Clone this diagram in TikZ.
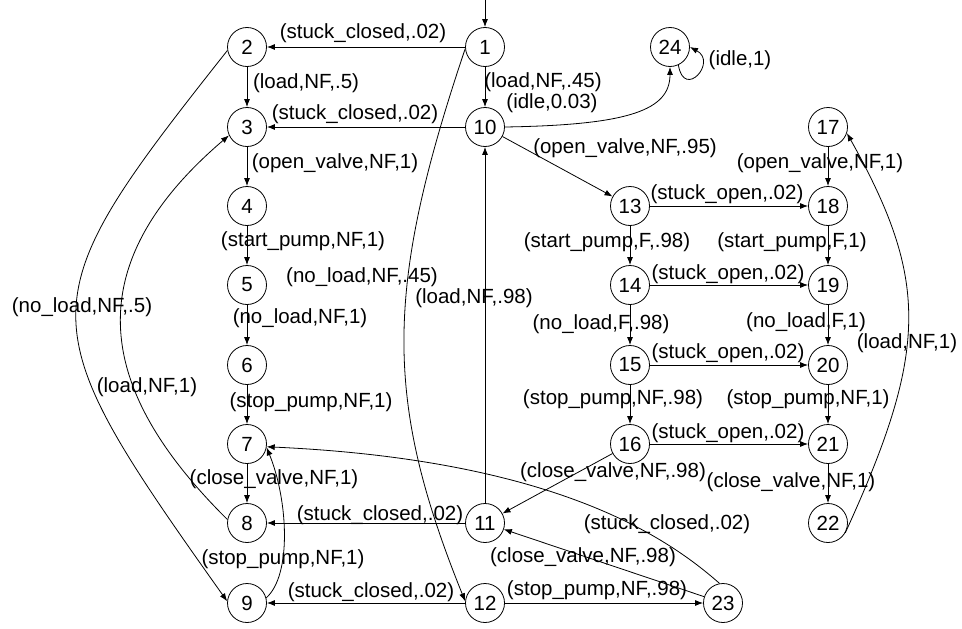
\documentclass[tikz,border=0pt]{standalone}
\usepackage{fontspec}
\setmainfont{Liberation Sans}
\usetikzlibrary{arrows.meta}
\begin{document}
\begin{tikzpicture}[x=1pt,y=-1pt,
  st/.style={circle,draw,line width=0.8pt,minimum size=39pt,inner sep=0pt,font=\fontsize{20.5}{24}\selectfont},
  lbl/.style={inner sep=0pt,font=\fontsize{20.5}{24}\selectfont},
  tr/.style={-{Latex[length=8pt,width=6pt]},line width=0.8pt}]
\useasboundingbox (0,0) rectangle (962,629);
% states
\node[st] (n1) at (485,47) {1};
\node[st] (n2) at (247,47) {2};
\node[st] (n3) at (247,127) {3};
\node[st] (n4) at (247,206) {4};
\node[st] (n5) at (247,285) {5};
\node[st] (n6) at (247,365) {6};
\node[st] (n7) at (247,444) {7};
\node[st] (n8) at (247,523) {8};
\node[st] (n9) at (247,603) {9};
\node[st] (n10) at (485,127) {10};
\node[st] (n11) at (485,523) {11};
\node[st] (n12) at (485,603) {12};
\node[st] (n13) at (630,206) {13};
\node[st] (n14) at (630,285) {14};
\node[st] (n15) at (630,365) {15};
\node[st] (n16) at (630,444) {16};
\node[st] (n17) at (828,127) {17};
\node[st] (n18) at (828,206) {18};
\node[st] (n19) at (828,285) {19};
\node[st] (n20) at (828,365) {20};
\node[st] (n21) at (828,444) {21};
\node[st] (n22) at (828,523) {22};
\node[st] (n23) at (723,603) {23};
\node[st] (n24) at (670,47) {24};
\coordinate (in1) at (485,0);
% straight transitions
\draw[tr] (in1) -- (n1);
\draw[tr] (n1) -- (n2);
\draw[tr] (n2) -- (n3);
\draw[tr] (n1) -- (n10);
\draw[tr] (n10) -- (n3);
\draw[tr] (n3) -- (n4);
\draw[tr] (n4) -- (n5);
\draw[tr] (n5) -- (n6);
\draw[tr] (n6) -- (n7);
\draw[tr] (n7) -- (n8);
\draw[tr] (n11) -- (n8);
\draw[tr] (n12) -- (n9);
\draw[tr] (n12) -- (n23);
\draw[tr] (n23) -- (n11);
\draw[tr] (n16) -- (n11);
\draw[tr] (n11) -- (n10);
\draw[tr] (n10) -- (n13);
\draw[tr] (n13) -- (n18);
\draw[tr] (n14) -- (n19);
\draw[tr] (n15) -- (n20);
\draw[tr] (n16) -- (n21);
\draw[tr] (n13) -- (n14);
\draw[tr] (n14) -- (n15);
\draw[tr] (n15) -- (n16);
\draw[tr] (n17) -- (n18);
\draw[tr] (n18) -- (n19);
\draw[tr] (n19) -- (n20);
\draw[tr] (n20) -- (n21);
\draw[tr] (n21) -- (n22);
% curved transitions
\draw[tr] (n2.190) .. controls (26,305) and (26,318) .. (n9.175);
\draw[tr] (n8.170) .. controls (110,403) and (63,277) .. (n3.205);
\draw[tr] (n9.15) .. controls (292,575) and (288,500) .. (n7.-10);
\draw[tr] (n1.185) .. controls (384,290) and (384,400) .. (n12.175);
\draw[tr] (n23.100) .. controls (670,540) and (560,460) .. (n7.-8);
\draw[tr] (n22.-30) .. controls (929,350) and (929,280) .. (n17.-18);
\draw[tr] (n10.east) .. controls (630,125) and (670,110) .. (n24.south);
\draw[tr] (n24.-65) .. controls (684,100) and (718,62) .. (n24.0);
% labels
\node[lbl] (l1a) at (363,33) {(stuck\_closed,.02)};
\node[lbl] (l2a) at (306,83) {(load,NF,.5)};
\node[lbl] (l1b) at (543,82) {(load,NF,.45)};
\node[lbl] (l10a) at (552,103) {(idle,0.03)};
\node[lbl] (l10b) at (355,114) {(stuck\_closed,.02)};
\node[lbl] (l3a) at (335,163) {(open\_valve,NF,1)};
\node[lbl] (l24a) at (740,60) {(idle,1)};
\node[lbl] (l10c) at (625,148) {(open\_valve,NF,.95)};
\node[lbl] (l17a) at (820,163) {(open\_valve,NF,1)};
\node[lbl] (l13a) at (727,194) {(stuck\_open,.02)};
\node[lbl] (l4a) at (303,241) {(start\_pump,NF,1)};
\node[lbl] (l13b) at (607,242) {(start\_pump,F,.98)};
\node[lbl] (l18a) at (792,242) {(start\_pump,F,1)};
\node[lbl] (l14a) at (728,274) {(stuck\_open,.02)};
\node[lbl] (l1c) at (362,277) {(no\_load,NF,.45)};
\node[lbl] (l11a) at (474,298) {(load,NF,.98)};
\node[lbl] (l2b) at (82,307) {(no\_load,NF,.5)};
\node[lbl] (l5a) at (300,318) {(no\_load,NF,1)};
\node[lbl] (l14b) at (601,324) {(no\_load,F,.98)};
\node[lbl] (l19a) at (806,322) {(no\_load,F,1)};
\node[lbl] (l22a) at (907,343) {(load,NF,1)};
\node[lbl] (l15a) at (728,353) {(stuck\_open,.02)};
\node[lbl] (l8a) at (147,387) {(load,NF,1)};
\node[lbl] (l6a) at (311,402) {(stop\_pump,NF,1)};
\node[lbl] (l15b) at (613,399) {(stop\_pump,NF,.98)};
\node[lbl] (l20a) at (808,399) {(stop\_pump,NF,1)};
\node[lbl] (l16a) at (728,433) {(stuck\_open,.02)};
\node[lbl] (l16b) at (613,472) {(close\_valve,NF,.98)};
\node[lbl] (l21a) at (791,482) {(close\_valve,NF,1)};
\node[lbl] (l7a) at (274,479) {(close\_valve,NF,1)};
\node[lbl] (l11b) at (380,515) {(stuck\_closed,.02)};
\node[lbl] (l23a) at (667,524) {(stuck\_closed,.02)};
\node[lbl] (l23b) at (583,557) {(close\_valve,NF,.98)};
\node[lbl] (l9a) at (283,559) {(stop\_pump,NF,1)};
\node[lbl] (l12a) at (371,592) {(stuck\_closed,.02)};
\node[lbl] (l12b) at (597,590) {(stop\_pump,NF,.98)};
\end{tikzpicture}
\end{document}
